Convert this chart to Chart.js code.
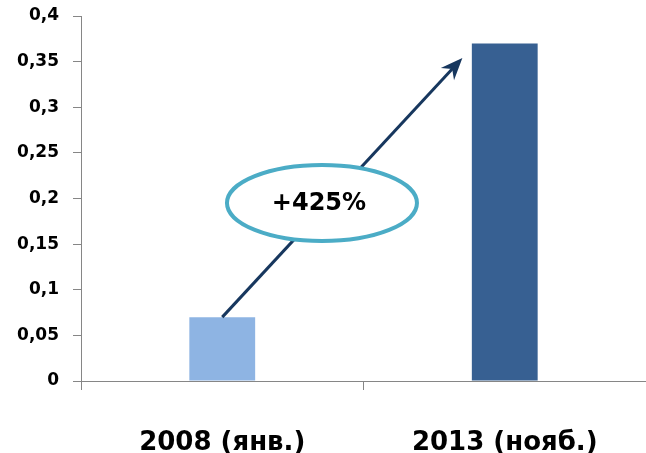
<!DOCTYPE html>
<html>
<head>
<meta charset="utf-8">
<script src="https://cdn.jsdelivr.net/npm/chart.js@4/dist/chart.umd.min.js"></script>
<style>
   html, body { margin: 0; padding: 0; background: #fff; }
   #wrap { width: 646px; height: 453px; }
</style>
</head>
<body>
<div id="wrap"><canvas id="growthChart"></canvas></div>
<script>
// data
const categories = ["2008 (янв.)", "2013 (нояб.)"];
const values = [0.07, 0.37];
const barColors = ["#8EB4E3", "#376092"];
const yTicks = [0, 0.05, 0.1, 0.15, 0.2, 0.25, 0.3, 0.35, 0.4];
const growthLabel = "+425%";

// arrow + ellipse drawn over the bars (positions in data units)
const growthPlugin = {
   id: "growth",
   afterDatasetsDraw(chart) {
      const ctx = chart.ctx;
      const x = chart.scales.x;
      const y = chart.scales.y;

      const x0 = x.getPixelForValue(0), y0 = y.getPixelForValue(values[0]);
      const x1 = x.getPixelForValue(0.85), y1 = y.getPixelForValue(0.354);
      const ang = Math.atan2(y1 - y0, x1 - x0);
      const c = Math.cos(ang), s = Math.sin(ang);

      ctx.save();
      ctx.strokeStyle = "#17375E";
      ctx.fillStyle = "#17375E";
      ctx.lineWidth = 3;
      ctx.beginPath();
      ctx.moveTo(x0, y0);
      ctx.lineTo(x1 - 14 * c, y1 - 14 * s);
      ctx.stroke();
      // arrow head
      ctx.beginPath();
      ctx.moveTo(x1, y1);
      ctx.lineTo(x1 - 22 * c + 9 * s, y1 - 22 * s - 9 * c);
      ctx.lineTo(x1 - 15 * c, y1 - 15 * s);
      ctx.lineTo(x1 - 22 * c - 9 * s, y1 - 22 * s + 9 * c);
      ctx.closePath();
      ctx.fill();

      // ellipse with label
      const cx = x.getPixelForValue(0.353), cy = y.getPixelForValue(0.195);
      ctx.beginPath();
      ctx.ellipse(cx, cy, 95, 38, 0, 0, Math.PI * 2);
      ctx.fillStyle = "#ffffff";
      ctx.fill();
      ctx.lineWidth = 4;
      ctx.strokeStyle = "#4BACC6";
      ctx.stroke();

      ctx.fillStyle = "#000000";
      ctx.font = "bold 24px 'DejaVu Sans', sans-serif";
      ctx.textAlign = "center";
      ctx.textBaseline = "middle";
      ctx.fillText(growthLabel, cx - 3, cy + 1);
      ctx.restore();
   },
};

const ctx = document.getElementById("growthChart").getContext("2d");

new Chart(ctx, {
   type: "bar",
   data: {
      labels: categories,
      datasets: [
         {
            data: values,
            backgroundColor: barColors,
            borderWidth: 0,
            barPercentage: 0.233,
            categoryPercentage: 1,
         },
      ],
   },
   options: {
      responsive: true,
      maintainAspectRatio: false,
      animation: false,
      layout: { padding: { left: 0, top: 16, right: -3, bottom: 0 } },
      plugins: {
         legend: { display: false },
         tooltip: { enabled: false },
      },
      scales: {
         y: {
            min: 0,
            max: 0.4,
            afterBuildTicks: (axis) => {
               axis.ticks = yTicks.map((v) => ({ value: v }));
            },
            afterFit: (axis) => {
               axis.width = 81;
               axis.paddingTop = 0;
               axis.paddingBottom = 0;
            },
            border: { color: "#868686", width: 1 },
            grid: { drawOnChartArea: false, tickLength: 8, color: "#868686" },
            ticks: {
               padding: 14,
               color: "#000",
               font: { family: "'DejaVu Sans', sans-serif", size: 17, weight: "bold" },
               callback: (v) => String(v).replace(".", ","),
            },
         },
         x: {
            offset: true,
            afterFit: (axis) => {
               axis.height = 72;
               axis.paddingLeft = 0;
               axis.paddingRight = 0;
            },
            border: { color: "#868686", width: 1 },
            grid: { offset: true, drawOnChartArea: false, tickLength: 9, color: "#868686" },
            ticks: {
               padding: 40,
               maxRotation: 0,
               color: "#000",
               font: { family: "'DejaVu Sans', sans-serif", size: 26, weight: "bold", lineHeight: 1 },
            },
         },
      },
   },
   plugins: [growthPlugin],
});
</script>
</body>
</html>
